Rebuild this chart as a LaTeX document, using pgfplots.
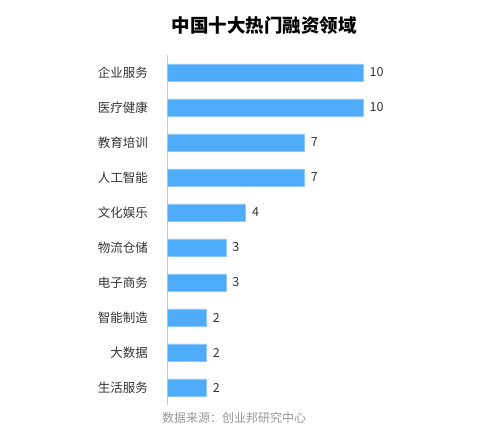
\documentclass[border=0pt]{standalone}
\usepackage{pgfplots}
\pgfplotsset{compat=1.18}
\usepackage{fontspec}
\setmainfont{Noto Sans CJK SC}
\definecolor{barblue}{RGB}{77,171,247}
\definecolor{baredge}{RGB}{140,200,250}
\definecolor{txt}{RGB}{51,51,51}
\definecolor{src}{RGB}{150,150,150}
\begin{document}
\begin{tikzpicture}
\path[use as bounding box] (0,0) rectangle (493bp,431bp);
\begin{axis}[
  at={(167bp,26bp)}, anchor=south west,
  scale only axis,
  width=196bp, height=350bp,
  xbar, bar width=17bp,
  xmin=0, xmax=10,
  ymin=-0.5, ymax=9.5,
  axis x line=none,
  axis y line*=left,
  axis line style={draw=black!20, line width=0.8pt},
  ytick={0,...,9},
  yticklabels={生活服务,大数据,智能制造,电子商务,物流仓储,文化娱乐,人工智能,教育培训,医疗健康,企业服务},
  major tick length=0pt,
  yticklabel style={font=\fontsize{12.5bp}{14bp}\selectfont, text=txt, inner sep=0pt, xshift=-19bp},
  nodes near coords,
  nodes near coords style={font=\fontsize{12.5bp}{14bp}\selectfont, text=txt, anchor=west, xshift=3bp},
  /pgf/number format/assume math mode=true,
  clip=false,
]
\addplot[fill=barblue, draw=baredge, line width=0.6pt] coordinates {
  (2,0) (2,1) (2,2) (3,3) (3,4) (4,5) (7,6) (7,7) (10,8) (10,9)
};
\end{axis}
\node[font=\fontsize{18.5bp}{20bp}\selectfont\bfseries] at (264bp,406bp) {中国十大热门融资领域};
\node[font=\fontsize{12bp}{14bp}\selectfont, text=src] at (234bp,13bp) {数据来源：创业邦研究中心};
\end{tikzpicture}
\end{document}
